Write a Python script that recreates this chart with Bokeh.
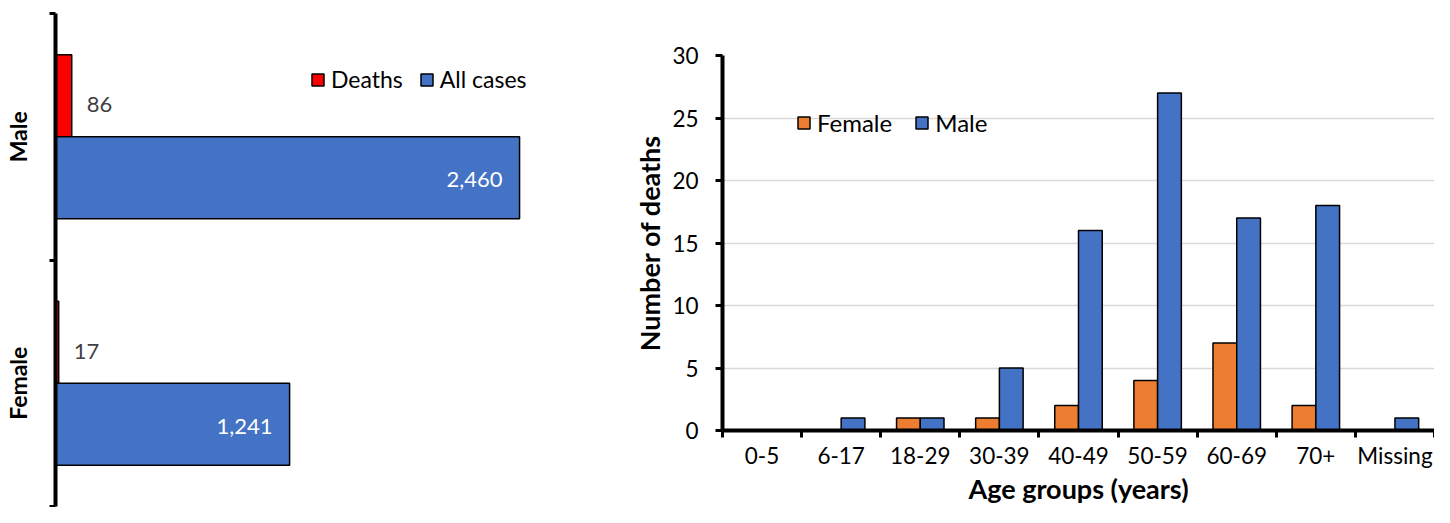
from bokeh.plotting import figure
from bokeh.layouts import row
from bokeh.models import (Range1d, LinearAxis, FixedTicker, ColumnDataSource,
                          Legend, LegendItem)
from bokeh.core.properties import value
from bokeh.transform import dodge
from bokeh.embed import file_html
from bokeh.resources import INLINE
import numpy as np

FONT = "Lato"

# ---------------- data ----------------
sexes = ["Female", "Male"]
deaths_by_sex = [17, 86]
cases_by_sex = [1241, 2460]

age_groups = ["0-5", "6-17", "18-29", "30-39", "40-49", "50-59", "60-69", "70+", "Missing"]
female_deaths = [0, 0, 1, 1, 2, 4, 7, 2, 0]
male_deaths = [0, 1, 1, 5, 16, 27, 17, 18, 1]
y_ticks_right = [0, 5, 10, 15, 20, 25, 30]

RED = "#FF0000"
BLUE = "#4472C4"
ORANGE = "#ED7D31"
H = 507

# ---------------- left panel ----------------
pos_s = np.arange(len(sexes)) + 0.5
src_l = ColumnDataSource(dict(
    y=pos_s, deaths=deaths_by_sex, cases=cases_by_sex,
    dlab=[f"{v:,}" for v in deaths_by_sex],
    clab=[f"{v:,}" for v in cases_by_sex],
))

W1 = 560
left = figure(width=W1, height=H, output_backend="svg", toolbar_location=None,
              x_range=Range1d(0, 2677), y_range=Range1d(0, len(sexes)),
              x_axis_location=None, y_axis_location=None,
              min_border_left=54, min_border_right=0, min_border_top=13, min_border_bottom=1)
left.frame_align = False
left.outline_line_color = None
left.xgrid.visible = False
left.ygrid.visible = False

BH = 0.333
r_d = left.hbar(y=dodge("y", BH / 2), right="deaths", left=0, height=BH, source=src_l,
                fill_color=RED, line_color="black", line_width=1.5)
r_c = left.hbar(y=dodge("y", -BH / 2), right="cases", left=0, height=BH, source=src_l,
                fill_color=BLUE, line_color="black", line_width=1.5)

left.text(x="deaths", y=dodge("y", BH / 2), text="dlab", source=src_l,
          x_offset=15, y_offset=9, text_align="left", text_baseline="middle",
          text_font=value(FONT), text_font_size="22px", text_color="#404040")
left.text(x="cases", y=dodge("y", -BH / 2), text="clab", source=src_l,
          x_offset=-17, y_offset=2, text_align="right", text_baseline="middle",
          text_font=value(FONT), text_font_size="22px", text_color="white")

yax = LinearAxis(ticker=FixedTicker(ticks=list(pos_s), minor_ticks=list(range(len(sexes) + 1))),
                 major_label_overrides={float(p): s for p, s in zip(pos_s, sexes)})
yax.major_label_orientation = "vertical"
yax.major_tick_out = 0
yax.major_tick_in = 0
yax.minor_tick_out = 6
yax.minor_tick_in = 0
yax.minor_tick_line_width = 3
yax.minor_tick_line_color = "black"
yax.axis_line_width = 4
yax.axis_line_color = "black"
yax.major_label_standoff = 18
yax.major_label_text_font = FONT
yax.major_label_text_font_style = "bold"
yax.major_label_text_font_size = "23px"
yax.major_label_text_color = "black"
left.add_layout(yax, "left")

leg_l = Legend(items=[LegendItem(label="Deaths", renderers=[r_d]),
                      LegendItem(label="All cases", renderers=[r_c])],
               orientation="horizontal", location=(255, 413),
               glyph_width=15, glyph_height=15, label_standoff=6, spacing=16,
               padding=0, margin=0, border_line_color=None, background_fill_alpha=0,
               label_text_font=FONT, label_text_font_size="23px", label_text_color="black")
left.add_layout(leg_l)

# ---------------- right panel ----------------
pos_a = np.arange(len(age_groups)) + 0.5
src_r = ColumnDataSource(dict(x=pos_a, f=female_deaths, m=male_deaths))

W2 = 1434 - W1
right = figure(width=W2, height=H, output_backend="svg", toolbar_location=None,
               x_range=Range1d(0, len(age_groups)), y_range=Range1d(0, 30),
               x_axis_location=None, y_axis_location=None,
               min_border_left=162, min_border_right=0, min_border_top=55, min_border_bottom=70)
right.frame_align = False
right.outline_line_color = None
right.xgrid.visible = False

BW = 0.3
r_f = right.vbar(x=dodge("x", -BW / 2), top="f", bottom=0, width=BW, source=src_r,
                 fill_color=ORANGE, line_color="black", line_width=1.5)
r_m = right.vbar(x=dodge("x", BW / 2), top="m", bottom=0, width=BW, source=src_r,
                 fill_color=BLUE, line_color="black", line_width=1.5)

ry = LinearAxis(ticker=FixedTicker(ticks=y_ticks_right))
ry.axis_label = "Number of deaths"
ry.major_tick_out = 7
ry.major_tick_in = 0
ry.major_tick_line_width = 3
ry.minor_tick_out = 0
ry.minor_tick_in = 0
ry.axis_line_width = 4
ry.major_label_standoff = 17
ry.axis_label_standoff = 3
right.add_layout(ry, "left")

rx = LinearAxis(ticker=FixedTicker(ticks=list(pos_a), minor_ticks=list(range(len(age_groups) + 1))),
                major_label_overrides={float(p): s for p, s in zip(pos_a, age_groups)})
rx.axis_label = "Age groups (years)"
rx.major_tick_out = 0
rx.major_tick_in = 0
rx.minor_tick_out = 7
rx.minor_tick_in = 0
rx.minor_tick_line_width = 3
rx.minor_tick_line_color = "black"
rx.axis_line_width = 4
rx.major_label_standoff = 4
rx.axis_label_standoff = 0
right.add_layout(rx, "below")

for ax in (ry, rx):
    ax.axis_line_color = "black"
    ax.major_tick_line_color = "black"
    ax.major_label_text_font = FONT
    ax.major_label_text_font_size = "22.5px"
    ax.major_label_text_color = "black"
    ax.axis_label_text_font = FONT
    ax.axis_label_text_font_size = "27px"
    ax.axis_label_text_font_style = "bold"
    ax.axis_label_text_color = "black"

right.ygrid.ticker = FixedTicker(ticks=y_ticks_right)
right.ygrid.grid_line_color = "#D9D9D9"
right.ygrid.grid_line_width = 1.5
right.ygrid.level = "underlay"

leg_r = Legend(items=[LegendItem(label="Female", renderers=[r_f]),
                      LegendItem(label="Male", renderers=[r_m])],
               orientation="horizontal", location=(74, 293),
               glyph_width=15, glyph_height=15, label_standoff=6, spacing=22,
               padding=0, margin=0, border_line_color=None, background_fill_alpha=0,
               label_text_font=FONT, label_text_font_size="24px", label_text_color="black")
right.add_layout(leg_r)

layout = row(left, right)
open("out.html", "w").write(file_html(layout, INLINE))
